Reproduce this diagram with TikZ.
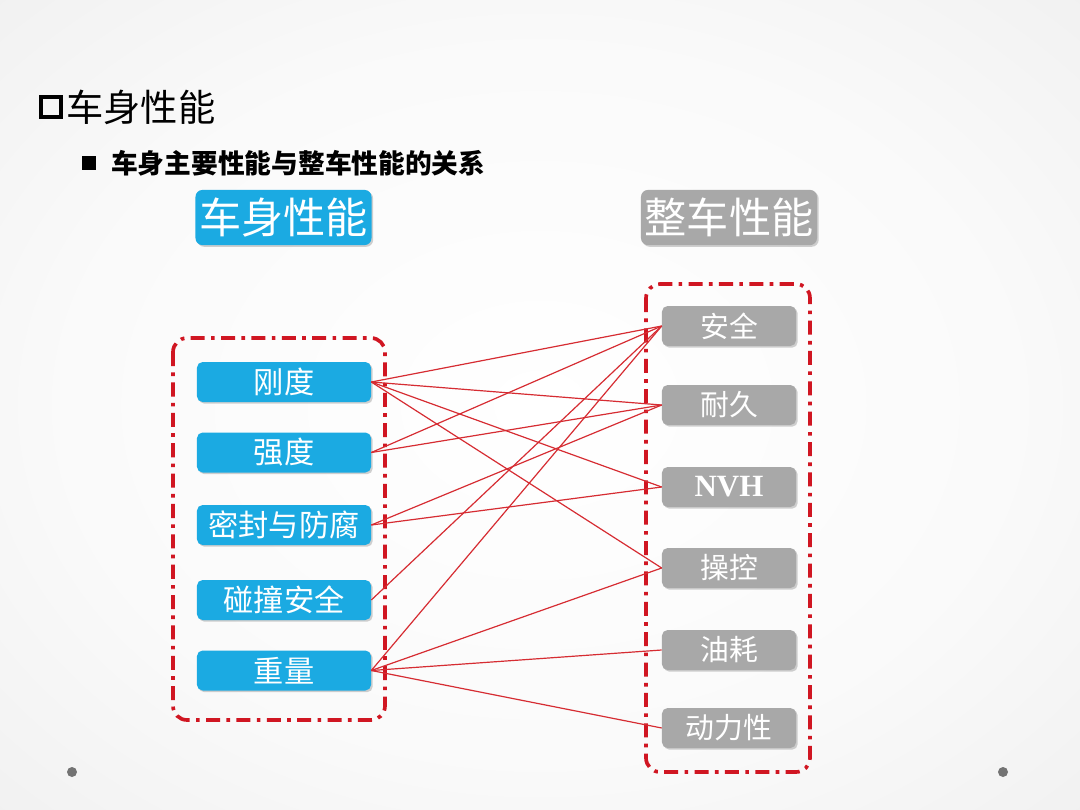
\documentclass[tikz,border=0pt]{standalone}
\usepackage{fontspec}
\newfontfamily\cjk{Noto Sans CJK SC}
\setmainfont{Liberation Serif}
\usetikzlibrary{shadows}
\definecolor{bodyblue}{RGB}{27,170,226}
\definecolor{cargray}{RGB}{168,168,168}
\definecolor{groupred}{RGB}{208,22,34}
\definecolor{linkred}{RGB}{214,44,50}
\pgfdeclareradialshading{vignette}{\pgfpoint{0bp}{0bp}}{color(0bp)=(white);
  color(22bp)=(black!2); color(50bp)=(black!9); color(71bp)=(black!17); color(100bp)=(black!17)}
\begin{document}
\begin{tikzpicture}[x=0.025cm,y=-0.025cm,
    bodyperf/.style ={rectangle, rounded corners=4pt, fill=bodyblue, text=white,
      minimum width=4.35cm, minimum height=1cm, inner sep=0pt,
      font=\cjk\fontsize{21.5}{24}\selectfont,
      drop shadow={shadow xshift=1.2pt, shadow yshift=-1.2pt, fill=black, opacity=0.18}},
    carperf/.style ={rectangle, rounded corners=4pt, fill=cargray, text=white,
      minimum width=3.35cm, minimum height=1cm, inner sep=0pt,
      font=\cjk\fontsize{20.5}{24}\selectfont,
      drop shadow={shadow xshift=1.2pt, shadow yshift=-1.2pt, fill=black, opacity=0.18}},
    heading/.style ={rectangle, rounded corners=5pt, text=white, inner sep=0pt,
      minimum width=4.4cm, minimum height=1.38cm,
      font=\cjk\fontsize{30}{34}\selectfont,
      drop shadow={shadow xshift=1.2pt, shadow yshift=-1.2pt, fill=black, opacity=0.18}},
    groupbox/.style ={draw=groupred, line width=2.6pt, rounded corners=10pt,
      dash pattern=on 10pt off 4.5pt on 2.6pt off 4.5pt},
    relation/.style ={draw=linkred, line width=0.85pt}]
   \useasboundingbox (0,0) rectangle (1080,810);
   \shade[shading=vignette] (0,0) rectangle (1080,810);
   \fill[black!55] (72,772) circle (5);
   \fill[black!55] (1003,772) circle (5);

   % titles
   \node[draw, line width=3.2pt, minimum size=0.5cm, inner sep=0pt] (T) at (51,107) {};
   \node[anchor=west, inner sep=0pt, font=\cjk\fontsize{26.5}{30}\selectfont] (Title) at (66,107) {车身性能};
   \node[fill=black, minimum size=0.34cm, inner sep=0pt] (S) at (89,163) {};
   \node[anchor=west, inner sep=0pt, font=\cjk\bfseries\fontsize{19}{22}\selectfont] (Sub) at (111,163) {车身主要性能与整车性能的关系};
   \node[heading, fill=bodyblue] (HL) at (283.5,217.5) {车身性能};
   \node[heading, fill=cargray] (HR) at (729,217.5) {整车性能};

   % groups
   \draw[groupbox] (173,338) rectangle (385,720);
   \draw[groupbox] (646,284) rectangle (810,772);

   \node[bodyperf] (A) at (284,382)  {刚度};
   \node[bodyperf] (B) at (284,452.5)  {强度};
   \node[bodyperf] (C) at (284,525)  {密封与防腐};
   \node[bodyperf] (D) at (284,600)  {碰撞安全};
   \node[bodyperf] (E) at (284,670.5)  {重量};

   \node[carperf] (F) at (729,326)  {安全};
   \node[carperf] (G) at (729,405)  {耐久};
   \node[carperf, font=\bfseries\fontsize{22}{24}\selectfont] (H) at (729,487)  {NVH};
   \node[carperf] (I) at (729,568)  {操控};
   \node[carperf] (J) at (729,650)  {油耗};
   \node[carperf] (K) at (729,728)  {动力性};

   \draw[relation] (A.east) to  (F.west);
   \draw[relation] (A.east) to  (G.west);
   \draw[relation] (A.east) to  (H.west);
   \draw[relation] (A.east) to  (I.west);
   \draw[relation] (B.east) to  (F.west);
   \draw[relation] (B.east) to  (G.west);
   \draw[relation] (C.east) to  (G.west);
   \draw[relation] (C.east) to  (H.west);
   \draw[relation] (D.east) to  (F.west);
   \draw[relation] (E.east) to  (F.west);
   \draw[relation] (E.east) to  (I.west);
   \draw[relation] (E.east) to  (J.west);
   \draw[relation] (E.east) to  (K.west);
 \end{tikzpicture}
\end{document}
